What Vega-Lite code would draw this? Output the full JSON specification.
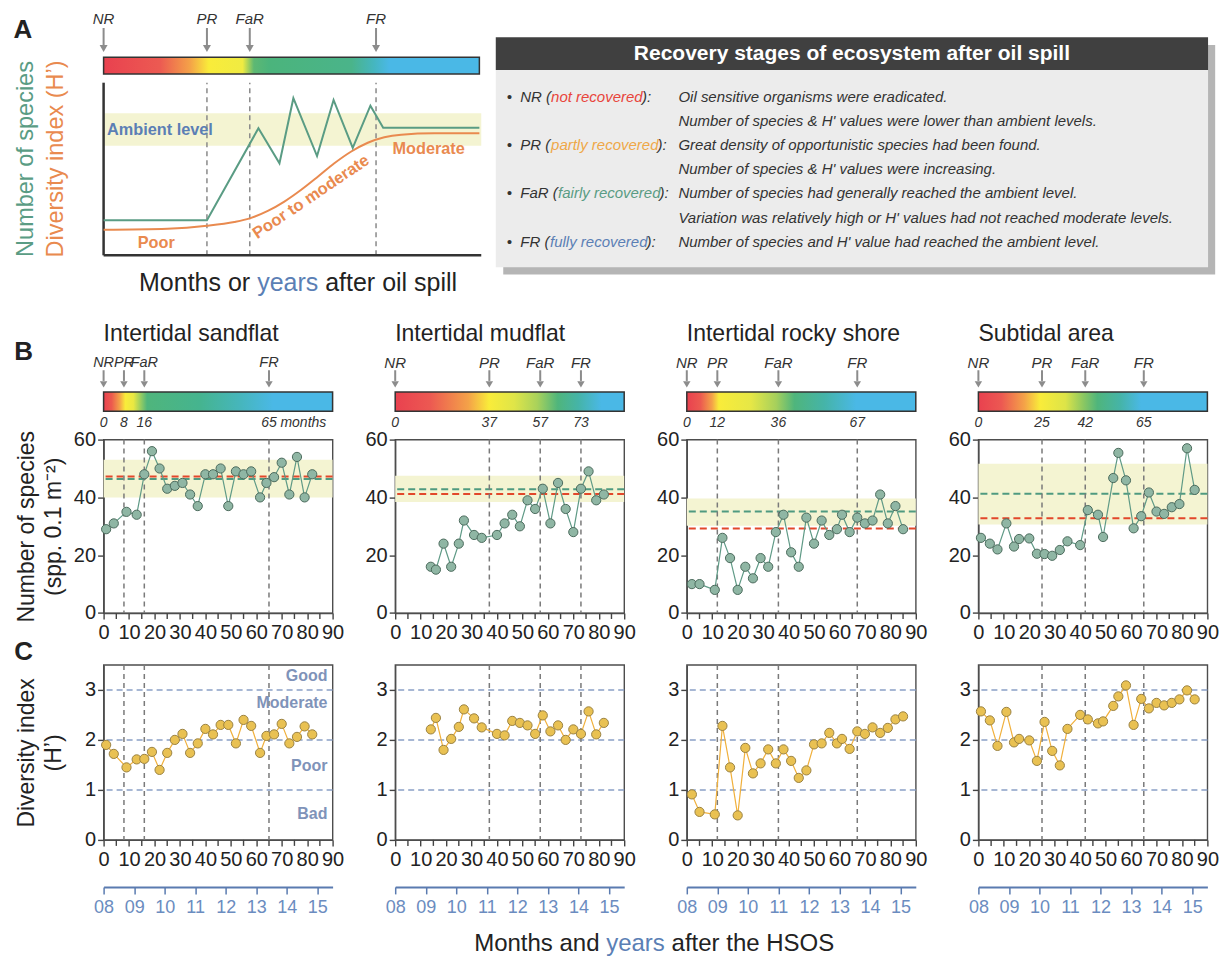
{
  "$schema": "https://vega.github.io/schema/vega-lite/v6.json",
  "padding": {"left": 12.6, "top": 11.3, "right": 4, "bottom": 4},
  "config": {
    "font": "Liberation Sans",
    "view": {"stroke": "#4d4d4d", "strokeWidth": 1.4},
    "axis": {"grid": false, "labelFont": "Liberation Sans", "labelFontSize": 20, "labelColor": "#222222", "tickColor": "#444444", "tickWidth": 1.4, "domainColor": "#4d4d4d", "domainWidth": 1.4, "labelFlush": false, "labelOverlap": false, "labelBound": false, "titleFont": "Liberation Sans"}
  },
  "datasets": {
    "a_species": [
      {"t": 0, "level": 20.3}, {"t": 27.5, "level": 20.3}, {"t": 41.2, "level": 73.6}, {"t": 46.8, "level": 53.3},
      {"t": 50.5, "level": 91}, {"t": 56.8, "level": 57.5}, {"t": 61.2, "level": 90}, {"t": 66.3, "level": 62.3},
      {"t": 71, "level": 86.7}, {"t": 74.4, "level": 73.9}, {"t": 100, "level": 73.9}
    ],
    "a_diversity": [
      {"t": 0, "level": 14.8}, {"t": 17, "level": 15.4}, {"t": 27.5, "level": 17.1}, {"t": 34.8, "level": 19.3},
      {"t": 38.9, "level": 21.4}, {"t": 43.7, "level": 25.7}, {"t": 48.1, "level": 31.1}, {"t": 52.5, "level": 37.8},
      {"t": 57, "level": 45.5}, {"t": 61.4, "level": 53.3}, {"t": 65.8, "level": 60}, {"t": 70.3, "level": 65.2},
      {"t": 74.7, "level": 68.4}, {"t": 79.2, "level": 69.9}, {"t": 88, "level": 70.7}, {"t": 100, "level": 70.7}
    ],
    "a_stages": [
      {"stage": "NR", "t": 0}, {"stage": "PR", "t": 27.5}, {"stage": "FaR", "t": 38.9}, {"stage": "FR", "t": 72.5}
    ],
    "minor_ticks": [
      {"m": 5}, {"m": 15}, {"m": 25}, {"m": 35}, {"m": 45}, {"m": 55}, {"m": 65}, {"m": 75}, {"m": 85}
    ],
    "stage_notes": [
      {"line": 1, "col": 1.53, "text": "•", "tone": "plain"},
      {"line": 1, "col": 3.44, "text": "NR (", "tone": "plain"},
      {"line": 1, "col": 7.76, "text": "not recovered", "tone": "NR"},
      {"line": 1, "col": 20.54, "text": "):", "tone": "plain"},
      {"line": 1, "col": 25.64, "text": "Oil sensitive organisms were eradicated.", "tone": "plain"},
      {"line": 2, "col": 25.64, "text": "Number of species & H' values were lower than ambient levels.", "tone": "plain"},
      {"line": 3, "col": 1.53, "text": "•", "tone": "plain"},
      {"line": 3, "col": 3.44, "text": "PR (", "tone": "plain"},
      {"line": 3, "col": 7.76, "text": "partly recovered", "tone": "PR"},
      {"line": 3, "col": 22.72, "text": "):", "tone": "plain"},
      {"line": 3, "col": 25.64, "text": "Great density of opportunistic species had been found.", "tone": "plain"},
      {"line": 4, "col": 25.64, "text": "Number of species & H' values were increasing.", "tone": "plain"},
      {"line": 5, "col": 1.53, "text": "•", "tone": "plain"},
      {"line": 5, "col": 3.44, "text": "FaR (", "tone": "plain"},
      {"line": 5, "col": 8.75, "text": "fairly recovered", "tone": "FaR"},
      {"line": 5, "col": 23.0, "text": "):", "tone": "plain"},
      {"line": 5, "col": 25.64, "text": "Number of species had generally reached the ambient level.", "tone": "plain"},
      {"line": 6, "col": 25.64, "text": "Variation was relatively high or H' values had not reached moderate levels.", "tone": "plain"},
      {"line": 7, "col": 1.53, "text": "•", "tone": "plain"},
      {"line": 7, "col": 3.44, "text": "FR (", "tone": "plain"},
      {"line": 7, "col": 7.62, "text": "fully recovered", "tone": "FR"},
      {"line": 7, "col": 21.17, "text": "):", "tone": "plain"},
      {"line": 7, "col": 25.64, "text": "Number of species and H' value had reached the ambient level.", "tone": "plain"}
    ],
    "stages": [
      {"site": "sand", "stage": "NR", "month": 0, "label": "0"}, {"site": "sand", "stage": "PR", "month": 8, "label": "8"},
      {"site": "sand", "stage": "FaR", "month": 16, "label": "16"}, {"site": "sand", "stage": "FR", "month": 65, "label": "65"},
      {"site": "mud", "stage": "NR", "month": 0, "label": "0"}, {"site": "mud", "stage": "PR", "month": 37, "label": "37"},
      {"site": "mud", "stage": "FaR", "month": 57, "label": "57"}, {"site": "mud", "stage": "FR", "month": 73, "label": "73"},
      {"site": "rock", "stage": "NR", "month": 0, "label": "0"}, {"site": "rock", "stage": "PR", "month": 12, "label": "12"},
      {"site": "rock", "stage": "FaR", "month": 36, "label": "36"}, {"site": "rock", "stage": "FR", "month": 67, "label": "67"},
      {"site": "sub", "stage": "NR", "month": 0, "label": "0"}, {"site": "sub", "stage": "PR", "month": 25, "label": "25"},
      {"site": "sub", "stage": "FaR", "month": 42, "label": "42"}, {"site": "sub", "stage": "FR", "month": 65, "label": "65"}
    ],
    "ambient": [
      {"site": "sand", "lo": 40, "hi": 53, "mean": 46.4, "ref": 47.2},
      {"site": "mud", "lo": 38.4, "hi": 47.5, "mean": 42.8, "ref": 41.2},
      {"site": "rock", "lo": 30.2, "hi": 39.6, "mean": 35.1, "ref": 29.2},
      {"site": "sub", "lo": 30.6, "hi": 51.6, "mean": 41.3, "ref": 32.8}
    ],
    "class_lines": [{"h": 1}, {"h": 2}, {"h": 3}],
    "class_labels": [
      {"label": "Good", "h": 3.27}, {"label": "Moderate", "h": 2.73}, {"label": "Poor", "h": 1.47}, {"label": "Bad", "h": 0.52}
    ],
    "survey": [
      {"site": "sand", "month": 1, "n": 29, "h": 1.90}, {"site": "sand", "month": 4, "n": 31, "h": 1.72},
      {"site": "sand", "month": 9, "n": 35, "h": 1.45}, {"site": "sand", "month": 13, "n": 34, "h": 1.61},
      {"site": "sand", "month": 16, "n": 48, "h": 1.62}, {"site": "sand", "month": 19, "n": 56, "h": 1.76},
      {"site": "sand", "month": 22, "n": 50, "h": 1.40}, {"site": "sand", "month": 25, "n": 43, "h": 1.74},
      {"site": "sand", "month": 28, "n": 44, "h": 2.00}, {"site": "sand", "month": 31, "n": 45, "h": 2.12},
      {"site": "sand", "month": 34, "n": 41, "h": 1.74}, {"site": "sand", "month": 37, "n": 37, "h": 1.93},
      {"site": "sand", "month": 40, "n": 48, "h": 2.22}, {"site": "sand", "month": 43, "n": 48, "h": 2.11},
      {"site": "sand", "month": 46, "n": 50, "h": 2.30}, {"site": "sand", "month": 49, "n": 37, "h": 2.30},
      {"site": "sand", "month": 52, "n": 49, "h": 1.93}, {"site": "sand", "month": 55, "n": 48, "h": 2.40},
      {"site": "sand", "month": 58, "n": 49, "h": 2.28}, {"site": "sand", "month": 61.5, "n": 40, "h": 1.74},
      {"site": "sand", "month": 64, "n": 45, "h": 2.08}, {"site": "sand", "month": 67, "n": 47, "h": 2.11},
      {"site": "sand", "month": 70, "n": 52, "h": 2.32}, {"site": "sand", "month": 73, "n": 41, "h": 1.93},
      {"site": "sand", "month": 76, "n": 54, "h": 2.06}, {"site": "sand", "month": 79, "n": 40, "h": 2.27},
      {"site": "sand", "month": 82, "n": 48, "h": 2.11},
      {"site": "mud", "month": 14, "n": 16, "h": 2.21}, {"site": "mud", "month": 16, "n": 15, "h": 2.44},
      {"site": "mud", "month": 19, "n": 24, "h": 1.80}, {"site": "mud", "month": 22, "n": 16, "h": 2.02},
      {"site": "mud", "month": 25, "n": 24, "h": 2.26}, {"site": "mud", "month": 27, "n": 32, "h": 2.61},
      {"site": "mud", "month": 31, "n": 27, "h": 2.43}, {"site": "mud", "month": 34, "n": 26, "h": 2.25},
      {"site": "mud", "month": 40, "n": 27, "h": 2.12}, {"site": "mud", "month": 43, "n": 31, "h": 2.09},
      {"site": "mud", "month": 46, "n": 34, "h": 2.38}, {"site": "mud", "month": 49, "n": 30, "h": 2.34},
      {"site": "mud", "month": 52, "n": 39, "h": 2.29}, {"site": "mud", "month": 55, "n": 36, "h": 2.12},
      {"site": "mud", "month": 58, "n": 43, "h": 2.49}, {"site": "mud", "month": 61, "n": 31, "h": 2.17},
      {"site": "mud", "month": 64, "n": 45, "h": 2.29}, {"site": "mud", "month": 67, "n": 36, "h": 2.00},
      {"site": "mud", "month": 70, "n": 28, "h": 2.21}, {"site": "mud", "month": 73, "n": 43, "h": 2.12},
      {"site": "mud", "month": 76, "n": 49, "h": 2.57}, {"site": "mud", "month": 79, "n": 39, "h": 2.11},
      {"site": "mud", "month": 82, "n": 41, "h": 2.34},
      {"site": "rock", "month": 2, "n": 10, "h": 0.91}, {"site": "rock", "month": 5, "n": 10, "h": 0.56},
      {"site": "rock", "month": 11, "n": 8, "h": 0.51}, {"site": "rock", "month": 14, "n": 26, "h": 2.28},
      {"site": "rock", "month": 17, "n": 19, "h": 1.45}, {"site": "rock", "month": 20, "n": 8, "h": 0.49},
      {"site": "rock", "month": 23, "n": 16, "h": 1.84}, {"site": "rock", "month": 26, "n": 12, "h": 1.33},
      {"site": "rock", "month": 29, "n": 19, "h": 1.53}, {"site": "rock", "month": 32, "n": 16, "h": 1.81},
      {"site": "rock", "month": 35, "n": 28, "h": 1.53}, {"site": "rock", "month": 38, "n": 34, "h": 1.81},
      {"site": "rock", "month": 41, "n": 21, "h": 1.58}, {"site": "rock", "month": 44, "n": 16, "h": 1.24},
      {"site": "rock", "month": 47, "n": 33, "h": 1.39}, {"site": "rock", "month": 50, "n": 24, "h": 1.91},
      {"site": "rock", "month": 53, "n": 32, "h": 1.93}, {"site": "rock", "month": 56, "n": 27, "h": 2.14},
      {"site": "rock", "month": 59, "n": 29, "h": 1.93}, {"site": "rock", "month": 61, "n": 34, "h": 2.02},
      {"site": "rock", "month": 64, "n": 28, "h": 1.82}, {"site": "rock", "month": 67, "n": 33, "h": 2.17},
      {"site": "rock", "month": 70, "n": 31, "h": 2.12}, {"site": "rock", "month": 73, "n": 32, "h": 2.25},
      {"site": "rock", "month": 76, "n": 41, "h": 2.14}, {"site": "rock", "month": 79, "n": 31, "h": 2.24},
      {"site": "rock", "month": 82, "n": 37, "h": 2.41}, {"site": "rock", "month": 85, "n": 29, "h": 2.47},
      {"site": "sub", "month": 1, "n": 26, "h": 2.57}, {"site": "sub", "month": 4.5, "n": 24, "h": 2.39},
      {"site": "sub", "month": 7.5, "n": 22, "h": 1.88}, {"site": "sub", "month": 11, "n": 31, "h": 2.56},
      {"site": "sub", "month": 14, "n": 23, "h": 1.95}, {"site": "sub", "month": 16, "n": 25.6, "h": 2.02},
      {"site": "sub", "month": 20, "n": 25.8, "h": 1.99}, {"site": "sub", "month": 23, "n": 20.5, "h": 1.58},
      {"site": "sub", "month": 26, "n": 20.4, "h": 2.36}, {"site": "sub", "month": 29, "n": 19.8, "h": 1.78},
      {"site": "sub", "month": 32, "n": 21.8, "h": 1.49}, {"site": "sub", "month": 35, "n": 24.8, "h": 2.22},
      {"site": "sub", "month": 40, "n": 23.5, "h": 2.50}, {"site": "sub", "month": 43, "n": 35.6, "h": 2.41},
      {"site": "sub", "month": 47, "n": 34, "h": 2.33}, {"site": "sub", "month": 49, "n": 26.3, "h": 2.37},
      {"site": "sub", "month": 53, "n": 46.7, "h": 2.68}, {"site": "sub", "month": 55, "n": 55.4, "h": 2.87},
      {"site": "sub", "month": 58, "n": 45.9, "h": 3.09}, {"site": "sub", "month": 61, "n": 29.3, "h": 2.30},
      {"site": "sub", "month": 64, "n": 33.5, "h": 2.82}, {"site": "sub", "month": 67, "n": 41.7, "h": 2.63},
      {"site": "sub", "month": 70, "n": 35.1, "h": 2.74}, {"site": "sub", "month": 73, "n": 34.3, "h": 2.69},
      {"site": "sub", "month": 76, "n": 36.6, "h": 2.74}, {"site": "sub", "month": 79, "n": 37.7, "h": 2.81},
      {"site": "sub", "month": 82, "n": 57, "h": 2.99}, {"site": "sub", "month": 85, "n": 42.6, "h": 2.81}
    ]
  },
  "columns": 4,
  "align": "each",
  "bounds": "flush",
  "spacing": {"row": 51.3, "column": 62.6},
  "concat": [
    {
      "width": 229, "height": 350.7, "view": {"stroke": null},
      "layer": [
        {"data": {"values": [{}]}, "mark": {"type": "rect", "fill": "#f4f4d2"},
         "encoding": {"x": {"datum": 0, "type": "quantitative", "scale": {"domain": [0, 60.94], "nice": false, "zero": false}, "axis": null}, "x2": {"datum": 100.5},
                      "y": {"datum": 63.5, "type": "quantitative", "scale": {"domain": [-76.88, 126.3], "nice": false, "zero": false}, "axis": null}, "y2": {"datum": 82.3}}},
        {"data": {"name": "a_stages"}, "transform": [{"filter": "datum.t > 0"}], "mark": {"type": "rule", "stroke": "#8a8a8a", "strokeWidth": 1.5, "strokeDash": [5, 4]},
         "encoding": {"x": {"field": "t", "type": "quantitative", "axis": null}, "y": {"datum": 0, "type": "quantitative", "axis": null}, "y2": {"datum": 100}}},
        {"data": {"values": [{}]}, "mark": {"type": "rule", "stroke": "#333333", "strokeWidth": 2.5},
         "encoding": {"x": {"datum": 0, "type": "quantitative", "axis": null}, "y": {"datum": 0, "type": "quantitative", "axis": null}, "y2": {"datum": 100}}},
        {"data": {"values": [{}]}, "mark": {"type": "rule", "stroke": "#333333", "strokeWidth": 2.5},
         "encoding": {"x": {"datum": 0, "type": "quantitative", "axis": null}, "x2": {"datum": 100.5}, "y": {"datum": 0, "type": "quantitative", "axis": null}}},
        {"data": {"name": "a_diversity"}, "mark": {"type": "line", "stroke": "#e98a4f", "strokeWidth": 2, "interpolate": "monotone"},
         "encoding": {"x": {"field": "t", "type": "quantitative", "axis": null}, "y": {"field": "level", "type": "quantitative", "axis": null}}},
        {"data": {"name": "a_species"}, "mark": {"type": "line", "stroke": "#5a9c84", "strokeWidth": 2},
         "encoding": {"x": {"field": "t", "type": "quantitative", "axis": null}, "y": {"field": "level", "type": "quantitative", "axis": null}}},
        {"data": {"values": [{}]}, "mark": {"type": "text", "text": "Ambient level", "fontWeight": "bold", "fontSize": 16.3, "color": "#5b7fb5", "align": "left", "baseline": "middle"},
         "encoding": {"x": {"datum": 0.9, "type": "quantitative", "axis": null}, "y": {"datum": 72.6, "type": "quantitative", "axis": null}}},
        {"data": {"values": [{}]}, "mark": {"type": "text", "text": "Poor", "fontWeight": "bold", "fontSize": 16.3, "color": "#e98a4f", "align": "center", "baseline": "middle"},
         "encoding": {"x": {"datum": 14, "type": "quantitative", "axis": null}, "y": {"datum": 7.1, "type": "quantitative", "axis": null}}},
        {"data": {"values": [{}]}, "mark": {"type": "text", "text": "Poor to moderate", "fontWeight": "bold", "fontSize": 16.5, "color": "#e98a4f", "align": "center", "baseline": "middle", "angle": 326},
         "encoding": {"x": {"datum": 55.2, "type": "quantitative", "axis": null}, "y": {"datum": 33.8, "type": "quantitative", "axis": null}}},
        {"data": {"values": [{}]}, "mark": {"type": "text", "text": "Moderate", "fontWeight": "bold", "fontSize": 16.3, "color": "#e98a4f", "align": "center", "baseline": "middle"},
         "encoding": {"x": {"datum": 86.5, "type": "quantitative", "axis": null}, "y": {"datum": 61.6, "type": "quantitative", "axis": null}}},
        {"data": {"values": [{}]}, "mark": {"type": "rect", "stroke": "#333333", "strokeWidth": 1.5,
           "fill": {"gradient": "linear", "x1": 0, "y1": 0, "x2": 1, "y2": 0, "stops": [
             {"offset": 0, "color": "#e9414f"}, {"offset": 0.15, "color": "#ec5a52"}, {"offset": 0.23, "color": "#f4a248"},
             {"offset": 0.28, "color": "#f9ec3a"}, {"offset": 0.37, "color": "#f0eb42"}, {"offset": 0.40, "color": "#5db873"},
             {"offset": 0.44, "color": "#4bb47c"}, {"offset": 0.66, "color": "#4ab48a"}, {"offset": 0.72, "color": "#45b6c0"},
             {"offset": 0.76, "color": "#4ab8e6"}, {"offset": 1, "color": "#4ab8e6"}]}},
         "encoding": {"x": {"datum": 0, "type": "quantitative", "axis": null}, "x2": {"datum": 100}, "y": {"datum": 105, "type": "quantitative", "axis": null}, "y2": {"datum": 114.7}}},
        {"data": {"name": "a_stages"}, "mark": {"type": "rule", "stroke": "#8c8c8c", "strokeWidth": 2},
         "encoding": {"x": {"field": "t", "type": "quantitative", "axis": null}, "y": {"datum": 121.3, "type": "quantitative", "axis": null}, "y2": {"datum": 131.7}}},
        {"data": {"name": "a_stages"}, "mark": {"type": "point", "shape": "triangle-down", "filled": true, "fill": "#8c8c8c", "strokeWidth": 0, "size": 64, "opacity": 1},
         "encoding": {"x": {"field": "t", "type": "quantitative", "axis": null}, "y": {"datum": 119.8, "type": "quantitative", "axis": null}}},
        {"data": {"name": "a_stages"}, "mark": {"type": "text", "fontStyle": "italic", "fontSize": 15, "color": "#333333", "align": "center", "baseline": "middle"},
         "encoding": {"x": {"field": "t", "type": "quantitative", "axis": null}, "y": {"datum": 137.1, "type": "quantitative", "axis": null}, "text": {"field": "stage"}}},
        {"data": {"values": [{}]}, "mark": {"type": "text", "text": "Number of species", "fontSize": 23.5, "color": "#5a9c84", "align": "center", "baseline": "middle", "angle": 270},
         "encoding": {"x": {"datum": -20.7, "type": "quantitative", "axis": null}, "y": {"datum": 55.8, "type": "quantitative", "axis": null}}},
        {"data": {"values": [{}]}, "mark": {"type": "text", "text": "Diversity index (H’)", "fontSize": 23.5, "color": "#e98a4f", "align": "center", "baseline": "middle", "angle": 270},
         "encoding": {"x": {"datum": -12.7, "type": "quantitative", "axis": null}, "y": {"datum": 55.8, "type": "quantitative", "axis": null}}},
        {"data": {"values": [{}]}, "mark": {"type": "text", "text": "Months or", "fontSize": 25, "color": "#222222", "align": "right", "baseline": "middle"},
         "encoding": {"x": {"datum": 39.0, "type": "quantitative", "axis": null}, "y": {"datum": -16.1, "type": "quantitative", "axis": null}}},
        {"data": {"values": [{}]}, "mark": {"type": "text", "text": "years", "fontSize": 25, "color": "#5b7fb5", "align": "center", "baseline": "middle"},
         "encoding": {"x": {"datum": 48.99, "type": "quantitative", "axis": null}, "y": {"datum": -16.1, "type": "quantitative", "axis": null}}},
        {"data": {"values": [{}]}, "mark": {"type": "text", "text": "after oil spill", "fontSize": 25, "color": "#222222", "align": "left", "baseline": "middle"},
         "encoding": {"x": {"datum": 58.97, "type": "quantitative", "axis": null}, "y": {"datum": -16.1, "type": "quantitative", "axis": null}}},
        {"data": {"values": [{}]}, "mark": {"type": "text", "text": "A", "fontSize": 26, "fontWeight": "bold", "color": "#222222", "align": "center", "baseline": "middle"},
         "encoding": {"x": {"datum": -21.5, "type": "quantitative", "axis": null}, "y": {"datum": 130.5, "type": "quantitative", "axis": null}}}
      ]
    },
    {
      "width": 229, "height": 230, "view": {"stroke": null},
      "layer": [
        {"data": {"values": [{}]}, "mark": {"type": "rect", "fill": "#b5b5b5"},
         "encoding": {"x": {"datum": 1.05, "type": "quantitative", "scale": {"domain": [-14.12, 18.03], "nice": false, "zero": false}, "axis": null}, "x2": {"datum": 101.0},
                      "y": {"datum": -1.139, "type": "quantitative", "scale": {"domain": [-1.457, 8.06], "nice": false, "zero": false, "reverse": true}, "axis": null}, "y2": {"datum": 8.36}}},
        {"data": {"values": [{}]}, "mark": {"type": "rect", "fill": "#ececec"},
         "encoding": {"x": {"datum": 0, "type": "quantitative", "axis": null}, "x2": {"datum": 100}, "y": {"datum": -0.105, "type": "quantitative", "axis": null}, "y2": {"datum": 8.06}}},
        {"data": {"values": [{}]}, "mark": {"type": "rect", "fill": "#404040"},
         "encoding": {"x": {"datum": 0, "type": "quantitative", "axis": null}, "x2": {"datum": 100}, "y": {"datum": -1.457, "type": "quantitative", "axis": null}, "y2": {"datum": -0.105}}},
        {"data": {"values": [{}]}, "mark": {"type": "text", "text": "Recovery stages of ecosystem after oil spill", "fontSize": 21, "fontWeight": "bold", "color": "#ffffff", "align": "center", "baseline": "middle"},
         "encoding": {"x": {"datum": 50, "type": "quantitative", "axis": null}, "y": {"datum": -0.767, "type": "quantitative", "axis": null}}},
        {"data": {"name": "stage_notes"}, "mark": {"type": "text", "fontStyle": "italic", "fontSize": 15, "align": "left", "baseline": "middle"},
         "encoding": {"x": {"field": "col", "type": "quantitative", "axis": null}, "y": {"field": "line", "type": "quantitative", "axis": null}, "text": {"field": "text"},
                      "color": {"field": "tone", "type": "nominal", "scale": {"domain": ["plain", "NR", "PR", "FaR", "FR"], "range": ["#333333", "#e8453c", "#efa848", "#5a9c84", "#5b7fb5"]}, "legend": null}}}
      ]
    },
    {"width": 1, "height": 1, "view": {"stroke": null}, "data": {"values": [{}]}, "mark": {"type": "text", "text": ""}},
    {"width": 1, "height": 1, "view": {"stroke": null}, "data": {"values": [{}]}, "mark": {"type": "text", "text": ""}},
    {
      "width": 229, "height": 173.4,
      "layer": [
        {"data": {"name": "ambient"}, "transform": [{"filter": "datum.site === 'sand'"}], "mark": {"type": "rect", "fill": "#f4f4d2"},
         "encoding": {"y": {"field": "lo", "type": "quantitative", "scale": {"domain": [0, 60], "nice": false},
                            "axis": {"values": [0, 10, 20, 30, 40, 50, 60], "tickSize": 6, "labelPadding": 2, "title": ["Number of species", "(spp. 0.1 m⁻²)"], "titleFontSize": 23, "titleFontWeight": "normal", "titleColor": "#222222", "titleLineHeight": 27, "titlePadding": 8}},
                      "y2": {"field": "hi"}}},
        {"data": {"name": "ambient"}, "transform": [{"filter": "datum.site === 'sand'"}], "mark": {"type": "rule", "stroke": "#4f9a80", "strokeWidth": 2, "strokeDash": [7, 4]},
         "encoding": {"y": {"field": "mean", "type": "quantitative"}}},
        {"data": {"name": "ambient"}, "transform": [{"filter": "datum.site === 'sand'"}], "mark": {"type": "rule", "stroke": "#e2472b", "strokeWidth": 2, "strokeDash": [7, 4]},
         "encoding": {"y": {"field": "ref", "type": "quantitative"}}},
        {"data": {"name": "stages"}, "transform": [{"filter": "datum.site === 'sand' && datum.month > 0"}], "mark": {"type": "rule", "stroke": "#7a7a7a", "strokeWidth": 1.5, "strokeDash": [5, 4]},
         "encoding": {"x": {"field": "month", "type": "quantitative", "scale": {"domain": [0, 90], "nice": false, "zero": false},
                            "axis": {"values": [0, 10, 20, 30, 40, 50, 60, 70, 80, 90], "tickCount": 10, "labelOverlap": false, "tickSize": 6, "labelPadding": 4, "title": null}}}},
        {"data": {"name": "minor_ticks"}, "mark": {"type": "rule", "stroke": "#444444", "strokeWidth": 1.4},
         "encoding": {"x": {"field": "m", "type": "quantitative"}, "y": {"datum": 0, "type": "quantitative"}, "y2": {"datum": -2.08}}},
        {"data": {"name": "survey"}, "transform": [{"filter": "datum.site === 'sand'"}], "mark": {"type": "line", "stroke": "#5f9a86", "strokeWidth": 1.2},
         "encoding": {"x": {"field": "month", "type": "quantitative"}, "y": {"field": "n", "type": "quantitative"}}},
        {"data": {"name": "survey"}, "transform": [{"filter": "datum.site === 'sand'"}], "mark": {"type": "point", "shape": "circle", "filled": true, "fill": "#8fb6a4", "stroke": "#4b6a5c", "strokeWidth": 1, "size": 85, "opacity": 1},
         "encoding": {"x": {"field": "month", "type": "quantitative"}, "y": {"field": "n", "type": "quantitative"}}},
        {"data": {"values": [{}]}, "mark": {"type": "text", "text": "Intertidal sandflat", "fontSize": 23, "color": "#222222", "align": "left", "baseline": "middle"},
         "encoding": {"x": {"datum": 0, "type": "quantitative"}, "y": {"datum": 96.5, "type": "quantitative"}}},
        {"data": {"name": "stages"}, "transform": [{"filter": "datum.site === 'sand'"}], "mark": {"type": "text", "fontStyle": "italic", "fontSize": 14.5, "color": "#333333", "align": "center", "baseline": "middle"},
         "encoding": {"x": {"field": "month", "type": "quantitative"}, "y": {"datum": 86.5, "type": "quantitative"}, "text": {"field": "stage"}}},
        {"data": {"name": "stages"}, "transform": [{"filter": "datum.site === 'sand'"}], "mark": {"type": "rule", "stroke": "#8c8c8c", "strokeWidth": 2},
         "encoding": {"x": {"field": "month", "type": "quantitative"}, "y": {"datum": 84, "type": "quantitative"}, "y2": {"datum": 80.3}}},
        {"data": {"name": "stages"}, "transform": [{"filter": "datum.site === 'sand'"}], "mark": {"type": "point", "shape": "triangle-down", "filled": true, "fill": "#8c8c8c", "strokeWidth": 0, "size": 55, "opacity": 1},
         "encoding": {"x": {"field": "month", "type": "quantitative"}, "y": {"datum": 79.1, "type": "quantitative"}}},
        {"data": {"values": [{}]}, "mark": {"type": "rect", "stroke": "#333333", "strokeWidth": 1.5,
           "fill": {"gradient": "linear", "x1": 0, "y1": 0, "x2": 1, "y2": 0, "stops": [
             {"offset": 0, "color": "#e9414f"}, {"offset": 0.035, "color": "#ec5a4e"}, {"offset": 0.07, "color": "#f4a248"},
             {"offset": 0.095, "color": "#f9ec3a"}, {"offset": 0.13, "color": "#eae842"}, {"offset": 0.19, "color": "#4fb57c"},
             {"offset": 0.42, "color": "#45b48f"}, {"offset": 0.6, "color": "#46b6bd"}, {"offset": 0.74, "color": "#4ab8e6"}, {"offset": 1, "color": "#4ab8e6"}]}},
         "encoding": {"x": {"datum": 0, "type": "quantitative"}, "x2": {"datum": 90}, "y": {"datum": 69.8, "type": "quantitative"}, "y2": {"datum": 76.5}}},
        {"data": {"name": "stages"}, "transform": [{"filter": "datum.site === 'sand'"}], "mark": {"type": "text", "fontStyle": "italic", "fontSize": 14, "color": "#333333", "align": "center", "baseline": "middle"},
         "encoding": {"x": {"field": "month", "type": "quantitative"}, "y": {"datum": 65.6, "type": "quantitative"}, "text": {"field": "label"}}},
        {"data": {"values": [{}]}, "mark": {"type": "text", "text": "months", "fontStyle": "italic", "fontSize": 14, "color": "#333333", "align": "left", "baseline": "middle"},
         "encoding": {"x": {"datum": 69.5, "type": "quantitative"}, "y": {"datum": 65.6, "type": "quantitative"}}},
        {"data": {"values": [{}]}, "mark": {"type": "text", "text": "B", "fontSize": 26, "fontWeight": "bold", "color": "#222222", "align": "center", "baseline": "middle"},
         "encoding": {"x": {"datum": -31.4, "type": "quantitative"}, "y": {"datum": 90.2, "type": "quantitative"}}}
      ]
    },
    {
      "width": 229, "height": 173.4,
      "layer": [
        {"data": {"name": "ambient"}, "transform": [{"filter": "datum.site === 'mud'"}], "mark": {"type": "rect", "fill": "#f4f4d2"},
         "encoding": {"y": {"field": "lo", "type": "quantitative", "scale": {"domain": [0, 60], "nice": false},
                            "axis": {"values": [0, 10, 20, 30, 40, 50, 60], "tickSize": 6, "labelPadding": 2, "title": null}},
                      "y2": {"field": "hi"}}},
        {"data": {"name": "ambient"}, "transform": [{"filter": "datum.site === 'mud'"}], "mark": {"type": "rule", "stroke": "#4f9a80", "strokeWidth": 2, "strokeDash": [7, 4]},
         "encoding": {"y": {"field": "mean", "type": "quantitative"}}},
        {"data": {"name": "ambient"}, "transform": [{"filter": "datum.site === 'mud'"}], "mark": {"type": "rule", "stroke": "#e2472b", "strokeWidth": 2, "strokeDash": [7, 4]},
         "encoding": {"y": {"field": "ref", "type": "quantitative"}}},
        {"data": {"name": "stages"}, "transform": [{"filter": "datum.site === 'mud' && datum.month > 0"}], "mark": {"type": "rule", "stroke": "#7a7a7a", "strokeWidth": 1.5, "strokeDash": [5, 4]},
         "encoding": {"x": {"field": "month", "type": "quantitative", "scale": {"domain": [0, 90], "nice": false, "zero": false},
                            "axis": {"values": [0, 10, 20, 30, 40, 50, 60, 70, 80, 90], "tickCount": 10, "labelOverlap": false, "tickSize": 6, "labelPadding": 4, "title": null}}}},
        {"data": {"name": "minor_ticks"}, "mark": {"type": "rule", "stroke": "#444444", "strokeWidth": 1.4},
         "encoding": {"x": {"field": "m", "type": "quantitative"}, "y": {"datum": 0, "type": "quantitative"}, "y2": {"datum": -2.08}}},
        {"data": {"name": "survey"}, "transform": [{"filter": "datum.site === 'mud'"}], "mark": {"type": "line", "stroke": "#5f9a86", "strokeWidth": 1.2},
         "encoding": {"x": {"field": "month", "type": "quantitative"}, "y": {"field": "n", "type": "quantitative"}}},
        {"data": {"name": "survey"}, "transform": [{"filter": "datum.site === 'mud'"}], "mark": {"type": "point", "shape": "circle", "filled": true, "fill": "#8fb6a4", "stroke": "#4b6a5c", "strokeWidth": 1, "size": 85, "opacity": 1},
         "encoding": {"x": {"field": "month", "type": "quantitative"}, "y": {"field": "n", "type": "quantitative"}}},
        {"data": {"values": [{}]}, "mark": {"type": "text", "text": "Intertidal mudflat", "fontSize": 23, "color": "#222222", "align": "left", "baseline": "middle"},
         "encoding": {"x": {"datum": 0, "type": "quantitative"}, "y": {"datum": 96.5, "type": "quantitative"}}},
        {"data": {"name": "stages"}, "transform": [{"filter": "datum.site === 'mud'"}], "mark": {"type": "text", "fontStyle": "italic", "fontSize": 15, "color": "#333333", "align": "center", "baseline": "middle"},
         "encoding": {"x": {"field": "month", "type": "quantitative"}, "y": {"datum": 86.5, "type": "quantitative"}, "text": {"field": "stage"}}},
        {"data": {"name": "stages"}, "transform": [{"filter": "datum.site === 'mud'"}], "mark": {"type": "rule", "stroke": "#8c8c8c", "strokeWidth": 2},
         "encoding": {"x": {"field": "month", "type": "quantitative"}, "y": {"datum": 84, "type": "quantitative"}, "y2": {"datum": 80.3}}},
        {"data": {"name": "stages"}, "transform": [{"filter": "datum.site === 'mud'"}], "mark": {"type": "point", "shape": "triangle-down", "filled": true, "fill": "#8c8c8c", "strokeWidth": 0, "size": 55, "opacity": 1},
         "encoding": {"x": {"field": "month", "type": "quantitative"}, "y": {"datum": 79.1, "type": "quantitative"}}},
        {"data": {"values": [{}]}, "mark": {"type": "rect", "stroke": "#333333", "strokeWidth": 1.5,
           "fill": {"gradient": "linear", "x1": 0, "y1": 0, "x2": 1, "y2": 0, "stops": [
             {"offset": 0, "color": "#e9414f"}, {"offset": 0.15, "color": "#ec5852"}, {"offset": 0.32, "color": "#f4a248"},
             {"offset": 0.41, "color": "#f9ec3a"}, {"offset": 0.52, "color": "#dfe548"}, {"offset": 0.62, "color": "#a9d25b"},
             {"offset": 0.71, "color": "#4fb57c"}, {"offset": 0.8, "color": "#45b4a8"}, {"offset": 0.9, "color": "#4ab8e6"}, {"offset": 1, "color": "#4ab8e6"}]}},
         "encoding": {"x": {"datum": 0, "type": "quantitative"}, "x2": {"datum": 90}, "y": {"datum": 69.8, "type": "quantitative"}, "y2": {"datum": 76.5}}},
        {"data": {"name": "stages"}, "transform": [{"filter": "datum.site === 'mud'"}], "mark": {"type": "text", "fontStyle": "italic", "fontSize": 14, "color": "#333333", "align": "center", "baseline": "middle"},
         "encoding": {"x": {"field": "month", "type": "quantitative"}, "y": {"datum": 65.6, "type": "quantitative"}, "text": {"field": "label"}}}
      ]
    },
    {
      "width": 229, "height": 173.4,
      "layer": [
        {"data": {"name": "ambient"}, "transform": [{"filter": "datum.site === 'rock'"}], "mark": {"type": "rect", "fill": "#f4f4d2"},
         "encoding": {"y": {"field": "lo", "type": "quantitative", "scale": {"domain": [0, 60], "nice": false},
                            "axis": {"values": [0, 10, 20, 30, 40, 50, 60], "tickSize": 6, "labelPadding": 2, "title": null}},
                      "y2": {"field": "hi"}}},
        {"data": {"name": "ambient"}, "transform": [{"filter": "datum.site === 'rock'"}], "mark": {"type": "rule", "stroke": "#4f9a80", "strokeWidth": 2, "strokeDash": [7, 4]},
         "encoding": {"y": {"field": "mean", "type": "quantitative"}}},
        {"data": {"name": "ambient"}, "transform": [{"filter": "datum.site === 'rock'"}], "mark": {"type": "rule", "stroke": "#e2472b", "strokeWidth": 2, "strokeDash": [7, 4]},
         "encoding": {"y": {"field": "ref", "type": "quantitative"}}},
        {"data": {"name": "stages"}, "transform": [{"filter": "datum.site === 'rock' && datum.month > 0"}], "mark": {"type": "rule", "stroke": "#7a7a7a", "strokeWidth": 1.5, "strokeDash": [5, 4]},
         "encoding": {"x": {"field": "month", "type": "quantitative", "scale": {"domain": [0, 90], "nice": false, "zero": false},
                            "axis": {"values": [0, 10, 20, 30, 40, 50, 60, 70, 80, 90], "tickCount": 10, "labelOverlap": false, "tickSize": 6, "labelPadding": 4, "title": null}}}},
        {"data": {"name": "minor_ticks"}, "mark": {"type": "rule", "stroke": "#444444", "strokeWidth": 1.4},
         "encoding": {"x": {"field": "m", "type": "quantitative"}, "y": {"datum": 0, "type": "quantitative"}, "y2": {"datum": -2.08}}},
        {"data": {"name": "survey"}, "transform": [{"filter": "datum.site === 'rock'"}], "mark": {"type": "line", "stroke": "#5f9a86", "strokeWidth": 1.2},
         "encoding": {"x": {"field": "month", "type": "quantitative"}, "y": {"field": "n", "type": "quantitative"}}},
        {"data": {"name": "survey"}, "transform": [{"filter": "datum.site === 'rock'"}], "mark": {"type": "point", "shape": "circle", "filled": true, "fill": "#8fb6a4", "stroke": "#4b6a5c", "strokeWidth": 1, "size": 85, "opacity": 1},
         "encoding": {"x": {"field": "month", "type": "quantitative"}, "y": {"field": "n", "type": "quantitative"}}},
        {"data": {"values": [{}]}, "mark": {"type": "text", "text": "Intertidal rocky shore", "fontSize": 23, "color": "#222222", "align": "left", "baseline": "middle"},
         "encoding": {"x": {"datum": 0, "type": "quantitative"}, "y": {"datum": 96.5, "type": "quantitative"}}},
        {"data": {"name": "stages"}, "transform": [{"filter": "datum.site === 'rock'"}], "mark": {"type": "text", "fontStyle": "italic", "fontSize": 15, "color": "#333333", "align": "center", "baseline": "middle"},
         "encoding": {"x": {"field": "month", "type": "quantitative"}, "y": {"datum": 86.5, "type": "quantitative"}, "text": {"field": "stage"}}},
        {"data": {"name": "stages"}, "transform": [{"filter": "datum.site === 'rock'"}], "mark": {"type": "rule", "stroke": "#8c8c8c", "strokeWidth": 2},
         "encoding": {"x": {"field": "month", "type": "quantitative"}, "y": {"datum": 84, "type": "quantitative"}, "y2": {"datum": 80.3}}},
        {"data": {"name": "stages"}, "transform": [{"filter": "datum.site === 'rock'"}], "mark": {"type": "point", "shape": "triangle-down", "filled": true, "fill": "#8c8c8c", "strokeWidth": 0, "size": 55, "opacity": 1},
         "encoding": {"x": {"field": "month", "type": "quantitative"}, "y": {"datum": 79.1, "type": "quantitative"}}},
        {"data": {"values": [{}]}, "mark": {"type": "rect", "stroke": "#333333", "strokeWidth": 1.5,
           "fill": {"gradient": "linear", "x1": 0, "y1": 0, "x2": 1, "y2": 0, "stops": [
             {"offset": 0, "color": "#e9414f"}, {"offset": 0.06, "color": "#ec5a50"}, {"offset": 0.11, "color": "#f4a248"},
             {"offset": 0.14, "color": "#f9ec3a"}, {"offset": 0.28, "color": "#e6e746"}, {"offset": 0.39, "color": "#a6d05c"},
             {"offset": 0.47, "color": "#4fb57c"}, {"offset": 0.6, "color": "#45b4a8"}, {"offset": 0.74, "color": "#4ab8e6"}, {"offset": 1, "color": "#4ab8e6"}]}},
         "encoding": {"x": {"datum": 0, "type": "quantitative"}, "x2": {"datum": 90}, "y": {"datum": 69.8, "type": "quantitative"}, "y2": {"datum": 76.5}}},
        {"data": {"name": "stages"}, "transform": [{"filter": "datum.site === 'rock'"}], "mark": {"type": "text", "fontStyle": "italic", "fontSize": 14, "color": "#333333", "align": "center", "baseline": "middle"},
         "encoding": {"x": {"field": "month", "type": "quantitative"}, "y": {"datum": 65.6, "type": "quantitative"}, "text": {"field": "label"}}}
      ]
    },
    {
      "width": 229, "height": 173.4,
      "layer": [
        {"data": {"name": "ambient"}, "transform": [{"filter": "datum.site === 'sub'"}], "mark": {"type": "rect", "fill": "#f4f4d2"},
         "encoding": {"y": {"field": "lo", "type": "quantitative", "scale": {"domain": [0, 60], "nice": false},
                            "axis": {"values": [0, 10, 20, 30, 40, 50, 60], "tickSize": 6, "labelPadding": 2, "title": null}},
                      "y2": {"field": "hi"}}},
        {"data": {"name": "ambient"}, "transform": [{"filter": "datum.site === 'sub'"}], "mark": {"type": "rule", "stroke": "#4f9a80", "strokeWidth": 2, "strokeDash": [7, 4]},
         "encoding": {"y": {"field": "mean", "type": "quantitative"}}},
        {"data": {"name": "ambient"}, "transform": [{"filter": "datum.site === 'sub'"}], "mark": {"type": "rule", "stroke": "#e2472b", "strokeWidth": 2, "strokeDash": [7, 4]},
         "encoding": {"y": {"field": "ref", "type": "quantitative"}}},
        {"data": {"name": "stages"}, "transform": [{"filter": "datum.site === 'sub' && datum.month > 0"}], "mark": {"type": "rule", "stroke": "#7a7a7a", "strokeWidth": 1.5, "strokeDash": [5, 4]},
         "encoding": {"x": {"field": "month", "type": "quantitative", "scale": {"domain": [0, 90], "nice": false, "zero": false},
                            "axis": {"values": [0, 10, 20, 30, 40, 50, 60, 70, 80, 90], "tickCount": 10, "labelOverlap": false, "tickSize": 6, "labelPadding": 4, "title": null}}}},
        {"data": {"name": "minor_ticks"}, "mark": {"type": "rule", "stroke": "#444444", "strokeWidth": 1.4},
         "encoding": {"x": {"field": "m", "type": "quantitative"}, "y": {"datum": 0, "type": "quantitative"}, "y2": {"datum": -2.08}}},
        {"data": {"name": "survey"}, "transform": [{"filter": "datum.site === 'sub'"}], "mark": {"type": "line", "stroke": "#5f9a86", "strokeWidth": 1.2},
         "encoding": {"x": {"field": "month", "type": "quantitative"}, "y": {"field": "n", "type": "quantitative"}}},
        {"data": {"name": "survey"}, "transform": [{"filter": "datum.site === 'sub'"}], "mark": {"type": "point", "shape": "circle", "filled": true, "fill": "#8fb6a4", "stroke": "#4b6a5c", "strokeWidth": 1, "size": 85, "opacity": 1},
         "encoding": {"x": {"field": "month", "type": "quantitative"}, "y": {"field": "n", "type": "quantitative"}}},
        {"data": {"values": [{}]}, "mark": {"type": "text", "text": "Subtidal area", "fontSize": 23, "color": "#222222", "align": "left", "baseline": "middle"},
         "encoding": {"x": {"datum": 0, "type": "quantitative"}, "y": {"datum": 96.5, "type": "quantitative"}}},
        {"data": {"name": "stages"}, "transform": [{"filter": "datum.site === 'sub'"}], "mark": {"type": "text", "fontStyle": "italic", "fontSize": 15, "color": "#333333", "align": "center", "baseline": "middle"},
         "encoding": {"x": {"field": "month", "type": "quantitative"}, "y": {"datum": 86.5, "type": "quantitative"}, "text": {"field": "stage"}}},
        {"data": {"name": "stages"}, "transform": [{"filter": "datum.site === 'sub'"}], "mark": {"type": "rule", "stroke": "#8c8c8c", "strokeWidth": 2},
         "encoding": {"x": {"field": "month", "type": "quantitative"}, "y": {"datum": 84, "type": "quantitative"}, "y2": {"datum": 80.3}}},
        {"data": {"name": "stages"}, "transform": [{"filter": "datum.site === 'sub'"}], "mark": {"type": "point", "shape": "triangle-down", "filled": true, "fill": "#8c8c8c", "strokeWidth": 0, "size": 55, "opacity": 1},
         "encoding": {"x": {"field": "month", "type": "quantitative"}, "y": {"datum": 79.1, "type": "quantitative"}}},
        {"data": {"values": [{}]}, "mark": {"type": "rect", "stroke": "#333333", "strokeWidth": 1.5,
           "fill": {"gradient": "linear", "x1": 0, "y1": 0, "x2": 1, "y2": 0, "stops": [
             {"offset": 0, "color": "#e9414f"}, {"offset": 0.1, "color": "#ec5852"}, {"offset": 0.2, "color": "#f4a248"},
             {"offset": 0.27, "color": "#f9ec3a"}, {"offset": 0.38, "color": "#dde448"}, {"offset": 0.46, "color": "#8ac762"},
             {"offset": 0.52, "color": "#4fb57c"}, {"offset": 0.62, "color": "#45b4a8"}, {"offset": 0.71, "color": "#4ab8e6"}, {"offset": 1, "color": "#4ab8e6"}]}},
         "encoding": {"x": {"datum": 0, "type": "quantitative"}, "x2": {"datum": 90}, "y": {"datum": 69.8, "type": "quantitative"}, "y2": {"datum": 76.5}}},
        {"data": {"name": "stages"}, "transform": [{"filter": "datum.site === 'sub'"}], "mark": {"type": "text", "fontStyle": "italic", "fontSize": 14, "color": "#333333", "align": "center", "baseline": "middle"},
         "encoding": {"x": {"field": "month", "type": "quantitative"}, "y": {"datum": 65.6, "type": "quantitative"}, "text": {"field": "label"}}}
      ]
    },
    {
      "width": 229, "height": 175,
      "resolve": {"scale": {"x": "independent"}, "axis": {"x": "independent"}},
      "layer": [
        {
          "layer": [
            {"data": {"name": "class_lines"}, "mark": {"type": "rule", "stroke": "#8aa0c6", "strokeWidth": 1.5, "strokeDash": [6, 4]},
             "encoding": {"y": {"field": "h", "type": "quantitative", "scale": {"domain": [0, 3.5], "nice": false},
                                "axis": {"values": [0, 1, 2, 3], "format": "d", "tickSize": 6, "labelPadding": 2, "title": ["Diversity index", "(H’)"], "titleFontSize": 23, "titleFontWeight": "normal", "titleColor": "#222222", "titleLineHeight": 27, "titlePadding": 19}}}},
            {"data": {"name": "stages"}, "transform": [{"filter": "datum.site === 'sand' && datum.month > 0"}], "mark": {"type": "rule", "stroke": "#7a7a7a", "strokeWidth": 1.5, "strokeDash": [5, 4]},
             "encoding": {"x": {"field": "month", "type": "quantitative", "scale": {"domain": [0, 90], "nice": false, "zero": false},
                                "axis": {"values": [0, 10, 20, 30, 40, 50, 60, 70, 80, 90], "tickCount": 10, "labelOverlap": false, "tickSize": 6, "labelPadding": 4, "title": null}}}},
            {"data": {"name": "minor_ticks"}, "mark": {"type": "rule", "stroke": "#444444", "strokeWidth": 1.4},
             "encoding": {"x": {"field": "m", "type": "quantitative"}, "y": {"datum": 0, "type": "quantitative"}, "y2": {"datum": -0.12}}},
            {"data": {"name": "survey"}, "transform": [{"filter": "datum.site === 'sand'"}], "mark": {"type": "line", "stroke": "#f0b03c", "strokeWidth": 1.2},
             "encoding": {"x": {"field": "month", "type": "quantitative"}, "y": {"field": "h", "type": "quantitative"}}},
            {"data": {"name": "survey"}, "transform": [{"filter": "datum.site === 'sand'"}], "mark": {"type": "point", "shape": "circle", "filled": true, "fill": "#e9c152", "stroke": "#9a8242", "strokeWidth": 1, "size": 85, "opacity": 1},
             "encoding": {"x": {"field": "month", "type": "quantitative"}, "y": {"field": "h", "type": "quantitative"}}},
            {"data": {"name": "class_labels"}, "mark": {"type": "text", "fontWeight": "bold", "fontSize": 16, "color": "#7f93b9", "align": "right", "baseline": "middle"},
             "encoding": {"x": {"datum": 88, "type": "quantitative"}, "y": {"field": "h", "type": "quantitative"}, "text": {"field": "label"}}},
            {"data": {"values": [{}]}, "mark": {"type": "text", "text": "C", "fontSize": 26, "fontWeight": "bold", "color": "#222222", "align": "center", "baseline": "middle"},
             "encoding": {"x": {"datum": -31.4, "type": "quantitative"}, "y": {"datum": 3.75, "type": "quantitative"}}}
          ]
        },
        {"data": {"values": [{}]}, "mark": {"type": "rule", "opacity": 0},
         "encoding": {"x": {"datum": 8, "type": "quantitative", "scale": {"domain": [8, 15.5], "nice": false, "zero": false},
                            "axis": {"orient": "bottom", "offset": 47, "values": [8, 9, 10, 11, 12, 13, 14, 15], "format": "02d", "labelOverlap": false, "domain": true, "domainColor": "#5a7bb0", "domainWidth": 2, "tickColor": "#5a7bb0", "tickSize": 7, "tickWidth": 1.5, "labelColor": "#6b8cc0", "labelFontSize": 18, "labelPadding": 5, "title": null}}}}
      ]
    },
    {
      "width": 229, "height": 175,
      "resolve": {"scale": {"x": "independent"}, "axis": {"x": "independent"}},
      "layer": [
        {
          "layer": [
            {"data": {"name": "class_lines"}, "mark": {"type": "rule", "stroke": "#8aa0c6", "strokeWidth": 1.5, "strokeDash": [6, 4]},
             "encoding": {"y": {"field": "h", "type": "quantitative", "scale": {"domain": [0, 3.5], "nice": false},
                                "axis": {"values": [0, 1, 2, 3], "format": "d", "tickSize": 6, "labelPadding": 2, "title": null}}}},
            {"data": {"name": "stages"}, "transform": [{"filter": "datum.site === 'mud' && datum.month > 0"}], "mark": {"type": "rule", "stroke": "#7a7a7a", "strokeWidth": 1.5, "strokeDash": [5, 4]},
             "encoding": {"x": {"field": "month", "type": "quantitative", "scale": {"domain": [0, 90], "nice": false, "zero": false},
                                "axis": {"values": [0, 10, 20, 30, 40, 50, 60, 70, 80, 90], "tickCount": 10, "labelOverlap": false, "tickSize": 6, "labelPadding": 4, "title": null}}}},
            {"data": {"name": "minor_ticks"}, "mark": {"type": "rule", "stroke": "#444444", "strokeWidth": 1.4},
             "encoding": {"x": {"field": "m", "type": "quantitative"}, "y": {"datum": 0, "type": "quantitative"}, "y2": {"datum": -0.12}}},
            {"data": {"name": "survey"}, "transform": [{"filter": "datum.site === 'mud'"}], "mark": {"type": "line", "stroke": "#f0b03c", "strokeWidth": 1.2},
             "encoding": {"x": {"field": "month", "type": "quantitative"}, "y": {"field": "h", "type": "quantitative"}}},
            {"data": {"name": "survey"}, "transform": [{"filter": "datum.site === 'mud'"}], "mark": {"type": "point", "shape": "circle", "filled": true, "fill": "#e9c152", "stroke": "#9a8242", "strokeWidth": 1, "size": 85, "opacity": 1},
             "encoding": {"x": {"field": "month", "type": "quantitative"}, "y": {"field": "h", "type": "quantitative"}}},
            {"data": {"values": [{}]}, "mark": {"type": "text", "text": "Months and", "fontSize": 24, "color": "#222222", "align": "right", "baseline": "middle"},
             "encoding": {"x": {"datum": 80.29, "type": "quantitative"}, "y": {"datum": -2.08, "type": "quantitative"}}},
            {"data": {"values": [{}]}, "mark": {"type": "text", "text": "years", "fontSize": 24, "color": "#5b7fb5", "align": "center", "baseline": "middle"},
             "encoding": {"x": {"datum": 94.44, "type": "quantitative"}, "y": {"datum": -2.08, "type": "quantitative"}}},
            {"data": {"values": [{}]}, "mark": {"type": "text", "text": "after the HSOS", "fontSize": 24, "color": "#222222", "align": "left", "baseline": "middle"},
             "encoding": {"x": {"datum": 108.63, "type": "quantitative"}, "y": {"datum": -2.08, "type": "quantitative"}}}
          ]
        },
        {"data": {"values": [{}]}, "mark": {"type": "rule", "opacity": 0},
         "encoding": {"x": {"datum": 8, "type": "quantitative", "scale": {"domain": [8, 15.5], "nice": false, "zero": false},
                            "axis": {"orient": "bottom", "offset": 47, "values": [8, 9, 10, 11, 12, 13, 14, 15], "format": "02d", "labelOverlap": false, "domain": true, "domainColor": "#5a7bb0", "domainWidth": 2, "tickColor": "#5a7bb0", "tickSize": 7, "tickWidth": 1.5, "labelColor": "#6b8cc0", "labelFontSize": 18, "labelPadding": 5, "title": null}}}}
      ]
    },
    {
      "width": 229, "height": 175,
      "resolve": {"scale": {"x": "independent"}, "axis": {"x": "independent"}},
      "layer": [
        {
          "layer": [
            {"data": {"name": "class_lines"}, "mark": {"type": "rule", "stroke": "#8aa0c6", "strokeWidth": 1.5, "strokeDash": [6, 4]},
             "encoding": {"y": {"field": "h", "type": "quantitative", "scale": {"domain": [0, 3.5], "nice": false},
                                "axis": {"values": [0, 1, 2, 3], "format": "d", "tickSize": 6, "labelPadding": 2, "title": null}}}},
            {"data": {"name": "stages"}, "transform": [{"filter": "datum.site === 'rock' && datum.month > 0"}], "mark": {"type": "rule", "stroke": "#7a7a7a", "strokeWidth": 1.5, "strokeDash": [5, 4]},
             "encoding": {"x": {"field": "month", "type": "quantitative", "scale": {"domain": [0, 90], "nice": false, "zero": false},
                                "axis": {"values": [0, 10, 20, 30, 40, 50, 60, 70, 80, 90], "tickCount": 10, "labelOverlap": false, "tickSize": 6, "labelPadding": 4, "title": null}}}},
            {"data": {"name": "minor_ticks"}, "mark": {"type": "rule", "stroke": "#444444", "strokeWidth": 1.4},
             "encoding": {"x": {"field": "m", "type": "quantitative"}, "y": {"datum": 0, "type": "quantitative"}, "y2": {"datum": -0.12}}},
            {"data": {"name": "survey"}, "transform": [{"filter": "datum.site === 'rock'"}], "mark": {"type": "line", "stroke": "#f0b03c", "strokeWidth": 1.2},
             "encoding": {"x": {"field": "month", "type": "quantitative"}, "y": {"field": "h", "type": "quantitative"}}},
            {"data": {"name": "survey"}, "transform": [{"filter": "datum.site === 'rock'"}], "mark": {"type": "point", "shape": "circle", "filled": true, "fill": "#e9c152", "stroke": "#9a8242", "strokeWidth": 1, "size": 85, "opacity": 1},
             "encoding": {"x": {"field": "month", "type": "quantitative"}, "y": {"field": "h", "type": "quantitative"}}}
          ]
        },
        {"data": {"values": [{}]}, "mark": {"type": "rule", "opacity": 0},
         "encoding": {"x": {"datum": 8, "type": "quantitative", "scale": {"domain": [8, 15.5], "nice": false, "zero": false},
                            "axis": {"orient": "bottom", "offset": 47, "values": [8, 9, 10, 11, 12, 13, 14, 15], "format": "02d", "labelOverlap": false, "domain": true, "domainColor": "#5a7bb0", "domainWidth": 2, "tickColor": "#5a7bb0", "tickSize": 7, "tickWidth": 1.5, "labelColor": "#6b8cc0", "labelFontSize": 18, "labelPadding": 5, "title": null}}}}
      ]
    },
    {
      "width": 229, "height": 175,
      "resolve": {"scale": {"x": "independent"}, "axis": {"x": "independent"}},
      "layer": [
        {
          "layer": [
            {"data": {"name": "class_lines"}, "mark": {"type": "rule", "stroke": "#8aa0c6", "strokeWidth": 1.5, "strokeDash": [6, 4]},
             "encoding": {"y": {"field": "h", "type": "quantitative", "scale": {"domain": [0, 3.5], "nice": false},
                                "axis": {"values": [0, 1, 2, 3], "format": "d", "tickSize": 6, "labelPadding": 2, "title": null}}}},
            {"data": {"name": "stages"}, "transform": [{"filter": "datum.site === 'sub' && datum.month > 0"}], "mark": {"type": "rule", "stroke": "#7a7a7a", "strokeWidth": 1.5, "strokeDash": [5, 4]},
             "encoding": {"x": {"field": "month", "type": "quantitative", "scale": {"domain": [0, 90], "nice": false, "zero": false},
                                "axis": {"values": [0, 10, 20, 30, 40, 50, 60, 70, 80, 90], "tickCount": 10, "labelOverlap": false, "tickSize": 6, "labelPadding": 4, "title": null}}}},
            {"data": {"name": "minor_ticks"}, "mark": {"type": "rule", "stroke": "#444444", "strokeWidth": 1.4},
             "encoding": {"x": {"field": "m", "type": "quantitative"}, "y": {"datum": 0, "type": "quantitative"}, "y2": {"datum": -0.12}}},
            {"data": {"name": "survey"}, "transform": [{"filter": "datum.site === 'sub'"}], "mark": {"type": "line", "stroke": "#f0b03c", "strokeWidth": 1.2},
             "encoding": {"x": {"field": "month", "type": "quantitative"}, "y": {"field": "h", "type": "quantitative"}}},
            {"data": {"name": "survey"}, "transform": [{"filter": "datum.site === 'sub'"}], "mark": {"type": "point", "shape": "circle", "filled": true, "fill": "#e9c152", "stroke": "#9a8242", "strokeWidth": 1, "size": 85, "opacity": 1},
             "encoding": {"x": {"field": "month", "type": "quantitative"}, "y": {"field": "h", "type": "quantitative"}}}
          ]
        },
        {"data": {"values": [{}]}, "mark": {"type": "rule", "opacity": 0},
         "encoding": {"x": {"datum": 8, "type": "quantitative", "scale": {"domain": [8, 15.5], "nice": false, "zero": false},
                            "axis": {"orient": "bottom", "offset": 47, "values": [8, 9, 10, 11, 12, 13, 14, 15], "format": "02d", "labelOverlap": false, "domain": true, "domainColor": "#5a7bb0", "domainWidth": 2, "tickColor": "#5a7bb0", "tickSize": 7, "tickWidth": 1.5, "labelColor": "#6b8cc0", "labelFontSize": 18, "labelPadding": 5, "title": null}}}}
      ]
    }
  ]
}
